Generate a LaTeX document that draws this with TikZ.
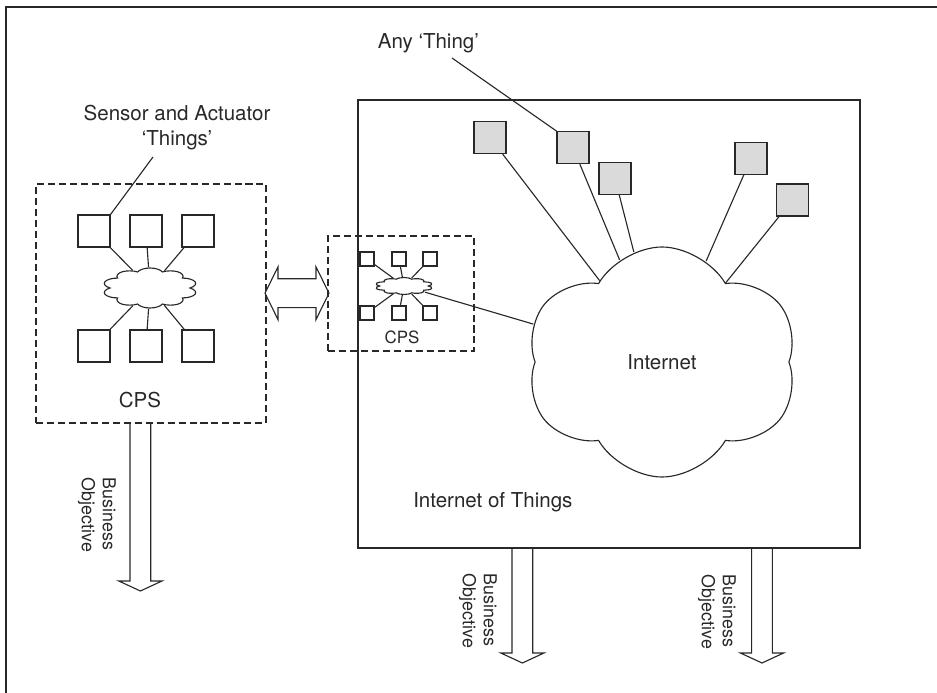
\documentclass[tikz,border=0pt]{standalone}
\usepackage{fontspec}
\setmainfont{TeX Gyre Heros}
\usetikzlibrary{shapes.symbols}
\definecolor{ink}{RGB}{40,40,40}
\definecolor{thing}{RGB}{218,218,218}

\begin{document}
\begin{tikzpicture}[
        color=ink, line width=0.8pt,
        dashbox/.style={draw, dash pattern=on 5pt off 2.8pt, inner sep=0pt},
        thingbox/.style={draw, minimum size=0.8cm, inner sep=0pt},
        tinybox/.style={draw, minimum size=0.35cm, inner sep=0pt},
        graything/.style={thingbox, fill=thing},
        net/.style={draw, cloud, cloud puffs=10, inner sep=0pt},
        lbl/.style={font=\fontsize{14.6}{17.8}\selectfont, align=center},
        biz/.style={font=\fontsize{12.7}{15}\selectfont, align=left, rotate=-90}
    ]

        \useasboundingbox (0cm,0cm) rectangle (23.425cm,-17.325cm);

        \draw[line width=1pt] (0.15cm,-17.325cm) -- (0.15cm,-0.175cm) -- (23.425cm,-0.175cm);  %Rahmen

        % linkes CPS
        \node[dashbox, minimum width=5.75cm, minimum height=5.975cm] (cpsleft) at (3.775cm,-7.5875cm) {};
        \begin{scope}[shift={(3.75cm,-7.2cm)}, xscale=2.375]
            \node[net, transform shape, minimum size=1cm] (cloudleft) at (0cm,0cm) {};
        \end{scope}
        \foreach \x [count=\i] in {2.35, 3.65, 4.95}
            {
                \node[thingbox] (ls\i) at (\x cm,-5.775cm) {};  %obere Reihe
                \node[thingbox] (lb\i) at (\x cm,-8.65cm) {};  %untere Reihe
                \draw (ls\i) -- (cloudleft);
                \draw (lb\i) -- (cloudleft);
            };
        \node[lbl] (cpsleftlbl) at (3.5cm,-10cm) {CPS};
        \node[lbl] (sensor) at (4.425cm,-3.19cm) {Sensor and Actuator\\`Things'};
        \coordinate (sensortip) at (3.825cm,-3.925cm);
        \draw (sensortip) -- (ls1.north east);

        % CPS im Internet der Dinge
        \node[dashbox, minimum width=3.65cm, minimum height=2.875cm] (cpsmid) at (10.025cm,-7.3375cm) {};
        \begin{scope}[shift={(10.1cm,-7.15cm)}, xscale=3.4]
            \node[net, transform shape, minimum size=0.425cm] (cloudmid) at (0cm,0cm) {};
        \end{scope}
        \foreach \x [count=\i] in {9.175, 9.975, 10.75}
            {
                \node[tinybox] (ms\i) at (\x cm,-6.475cm) {};
                \node[tinybox] (mb\i) at (\x cm,-7.825cm) {};
                \draw (ms\i) -- (cloudmid);
                \draw (mb\i) -- (cloudmid);
            };
        \node[font=\fontsize{12}{14}\selectfont] (cpsmidlbl) at (10.05cm,-8.425cm) {CPS};

        % Internet of Things
        \node[draw, minimum width=12.55cm, minimum height=11.2cm, inner sep=0pt] (iot) at (15.225cm,-8.1cm) {};
        \node[net, lbl, cloud puffs=6, cloud puff arc=120, aspect=1.29, shape border rotate=7,
            minimum width=6.8cm, minimum height=5.75cm] (internet) at (16.55cm,-9.05cm) {Internet};
        \node[lbl, anchor=west] (iotlbl) at (10.2cm,-12.55cm) {Internet of Things};
        \draw (cloudmid) -- (internet);

        \foreach \x/\y [count=\i] in {12.25/-3.44, 14.325/-3.69, 15.375/-4.46, 18.775/-3.96, 19.81/-5.0}
            {
                \node[graything] (g\i) at (\x cm,\y cm) {};
                \draw (g\i) -- (internet);
            };
        \node[lbl] (anything) at (10.71cm,-1.075cm) {Any `Thing'};
        \coordinate (anytip) at (11.3cm,-1.45cm);
        \draw (anytip) -- (g2.north west);

        % Doppelpfeil
        \draw (6.625cm,-7.33cm) -- (6.95cm,-6.67cm) -- (6.95cm,-6.97cm) -- (7.9cm,-6.97cm) -- (7.9cm,-6.67cm)
            -- (8.225cm,-7.33cm) -- (7.9cm,-7.99cm) -- (7.9cm,-7.69cm) -- (6.95cm,-7.69cm) -- (6.95cm,-7.99cm) -- cycle;

        % Business Objective Pfeile
        \foreach \x/\yt/\yb/\lx/\ly [count=\i] in {
                3.51/-10.575/-14.775/2.425/-12.875,
                13.06/-13.7/-16.575/11.95/-15.275,
                19.05/-13.7/-16.575/17.925/-15.3
            }
            {
                \draw (\x cm-0.26cm,\yt cm) -- (\x cm-0.26cm,\yb cm+0.25cm) -- (\x cm-0.54cm,\yb cm+0.25cm) -- (\x cm,\yb cm)
                    -- (\x cm+0.54cm,\yb cm+0.25cm) -- (\x cm+0.26cm,\yb cm+0.25cm) -- (\x cm+0.26cm,\yt cm);  %Pfeil
                \node[biz] (biz\i) at (\lx cm,\ly cm) {Business\\Objective};  %Beschriftung
            };

\end{tikzpicture}
\end{document}
